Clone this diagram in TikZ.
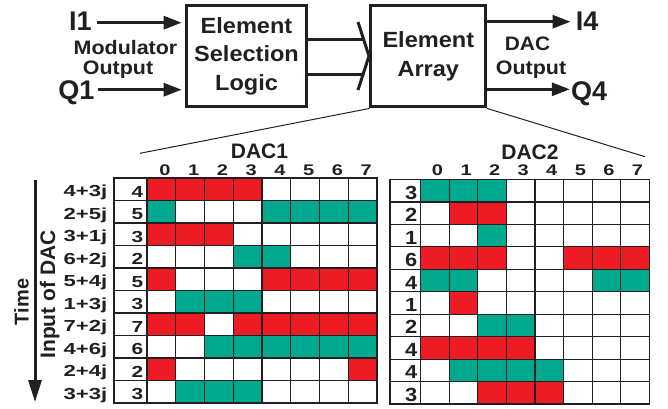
\documentclass[tikz,border=0pt]{standalone}
\usepackage{fontspec}
\usepackage{graphicx}
\setmainfont{Liberation Sans}
\usetikzlibrary{arrows.meta}
\definecolor{ink}{RGB}{35,31,32}
\definecolor{cR}{RGB}{237,28,36}
\definecolor{cG}{RGB}{0,168,142}
\definecolor{cW}{RGB}{255,255,255}
\newcommand\hs[2]{\scalebox{#1}[1]{#2}}
\begin{document}
\begin{tikzpicture}[x=1pt,y=-1pt,
  blk/.style={draw=ink, line width=3pt, minimum width=120pt, minimum height=101pt, inner sep=0pt, align=center, text=ink, font=\fontsize{22}{28.5}\selectfont\bfseries},
  txt/.style={inner sep=0pt, text=ink, anchor=base},
  flbl/.style={txt, font=\fontsize{19.5}{20}\selectfont\bfseries},
  fio/.style={txt, font=\fontsize{27}{27}\selectfont\bfseries},
  fdac/.style={txt, font=\fontsize{21}{21}\selectfont\bfseries},
  frow/.style={txt, font=\fontsize{16}{16}\selectfont\bfseries},
  fhead/.style={txt, font=\fontsize{15.4}{16}\selectfont\bfseries},
  fnum/.style={txt, font=\fontsize{16}{16}\selectfont\bfseries},
  fnumb/.style={txt, font=\fontsize{19}{19}\selectfont\bfseries},
  frot/.style={txt, rotate=90, font=\fontsize{21}{21}\selectfont\bfseries},
  arr/.style={draw=ink, line width=3pt, -{Triangle[length=18pt,width=13pt]}},
  gline/.style={draw=ink, line width=1.2pt},
  zline/.style={draw=ink, line width=1pt}]
\useasboundingbox (0,0) rectangle (668,408);

% ---------- block diagram ----------
\node[blk] (esl) at (246.5,56) {\hs{1.07}{Element}\\\hs{1.07}{Selection}\\\hs{1.07}{Logic}};
\node[blk, minimum width=114.7pt, minimum height=101.5pt] (ea) at (428.3,56.2) {\hs{1.07}{Element}\\\hs{1.07}{Array}};

\node[fio] (i1) at (80.5,30.7) {I1};
\node[fio] (q1) at (76.5,99.5) {Q1};
\node[fio] (i4) at (587,30.7) {I4};
\node[fio] (q4) at (589,100) {Q4};

\node[flbl] (mod) at (125.5,54) {\hs{1.1}{Modulator}};
\node[flbl] (mout) at (118,74) {\hs{1.1}{Output}};
\node[flbl] (dac) at (527.5,50) {\hs{1.07}{DAC}};
\node[flbl] (dout) at (531,74) {\hs{1.1}{Output}};

\coordinate (i1a) at ([shift={(5,-8)}]i1.base east);
\coordinate (q1a) at ([shift={(3,-9.8)}]q1.base east);
\draw[arr, shorten >=3.3pt] (i1a) -- (i1a -| esl.west);
\draw[arr, shorten >=3.3pt] (q1a) -- (q1a -| esl.west);

\coordinate (i4a) at ([shift={(-5,-9)}]i4.base west);
\coordinate (q4a) at ([shift={(-1,-10.7)}]q4.base west);
\draw[arr] (i4a -| ea.east) -- (i4a);
\draw[arr] (q4a -| ea.east) -- (q4a);

% hollow bus arrow
\coordinate (s1) at (363,39);
\coordinate (s2) at (363,74);
\coordinate (h1) at (358,22);
\coordinate (h2) at (369,56);
\coordinate (h3) at (358,90);
\draw[ink, line width=3pt] (s1 -| esl.east) -- (s1);
\draw[ink, line width=3pt] (s2 -| esl.east) -- (s2);
\draw[ink, line width=3pt, line join=miter] (h1) -- (h2) -- (h3);

% zoom lines
\coordinate (zl) at (140,153.3);
\coordinate (zr) at (645,156.7);
\draw[zline] (ea.south west) -- (zl);
\draw[zline] (ea.south east) -- (zr);

% ---------- time axis ----------
\coordinate (tTop) at (35,180);
\coordinate (tBot) at (35,402);
\draw[ink, line width=3pt, -{Triangle[length=22pt,width=13pt]}] (tTop) -- (tBot);
\node[frot] (time) at (28.5,302) {\fontsize{20}{20}\selectfont Time};
\node[frot] (inp) at (55,294.5) {Input of DAC};

% ---------- DAC1 grid ----------
\node[fdac] (dac1) at (259.5,158.3) {DAC1};
\foreach \k in {0,...,7}
  \node[fhead] (ha\k) at ({147+(\k+0.5)*28.75+3.5},175) {\hs{1.3}{\k}};
\foreach \r/\lab/\n/\cols in {
 0/4+3j/4/{cR,cR,cR,cR,cW,cW,cW,cW},
 1/2+5j/5/{cG,cW,cW,cW,cG,cG,cG,cG},
 2/3+1j/3/{cR,cR,cR,cW,cW,cW,cW,cW},
 3/6+2j/2/{cW,cW,cW,cG,cG,cW,cW,cW},
 4/5+4j/5/{cR,cW,cW,cW,cR,cR,cR,cR},
 5/1+3j/3/{cW,cG,cG,cG,cW,cW,cW,cW},
 6/7+2j/7/{cR,cR,cW,cR,cR,cR,cR,cR},
 7/4+6j/6/{cW,cW,cG,cG,cG,cG,cG,cG},
 8/2+4j/2/{cR,cW,cW,cW,cW,cW,cW,cR},
 9/3+3j/3/{cW,cG,cG,cG,cW,cW,cW,cW}}
{
  \foreach \c [count=\k from 0] in \cols
    \fill[\c] ({147+\k*28.75},{178+\r*22.5}) rectangle ++(28.75,22.5);
  \node[frow, anchor=base east] (la\r) at (107.5,{178+(\r+0.5)*22.5+7.5}) {\hs{1.38}{\lab}};
  \node[fnum, anchor=base east] (na\r) at (143.5,{178+(\r+0.5)*22.5+7.8}) {\hs{1.3}{\n}};
}
\draw[gline] (114,178) rectangle (377,403);
\foreach \r in {1,...,9}
  \draw[gline] (114,{178+\r*22.5}) -- (377,{178+\r*22.5});
\foreach \k in {0,...,7}
  \draw[gline] ({147+\k*28.75},178) -- ({147+\k*28.75},403);

% ---------- DAC2 grid ----------
\node[fdac] (dac2) at (530,159.5) {DAC2};
\foreach \k in {0,...,7}
  \node[fhead] (hb\k) at ({420.7+(\k+0.5)*28.575+2.5},175.7) {\hs{1.3}{\k}};
\foreach \r/\n/\cols in {
 0/3/{cG,cG,cG,cW,cW,cW,cW,cW},
 1/2/{cW,cR,cR,cW,cW,cW,cW,cW},
 2/1/{cW,cW,cG,cW,cW,cW,cW,cW},
 3/6/{cR,cR,cR,cW,cW,cR,cR,cR},
 4/4/{cG,cG,cW,cW,cW,cW,cG,cG},
 5/1/{cW,cR,cW,cW,cW,cW,cW,cW},
 6/2/{cW,cW,cG,cG,cW,cW,cW,cW},
 7/4/{cR,cR,cR,cR,cW,cW,cW,cW},
 8/4/{cW,cG,cG,cG,cG,cW,cW,cW},
 9/3/{cW,cW,cR,cR,cR,cW,cW,cW}}
{
  \foreach \c [count=\k from 0] in \cols
    \fill[\c] ({420.7+\k*28.575},{179.5+\r*22.45}) rectangle ++(28.575,22.45);
  \node[fnumb, anchor=base east] (nb\r) at (417.5,{179.5+(\r+0.5)*22.45+8.5}) {\hs{1.15}{\n}};
}
\draw[gline] (390,179.5) rectangle (649.3,404);
\foreach \r in {1,...,9}
  \draw[gline] (390,{179.5+\r*22.45}) -- (649.3,{179.5+\r*22.45});
\foreach \k in {0,...,7}
  \draw[gline] ({420.7+\k*28.575},179.5) -- ({420.7+\k*28.575},404);
\end{tikzpicture}
\end{document}
